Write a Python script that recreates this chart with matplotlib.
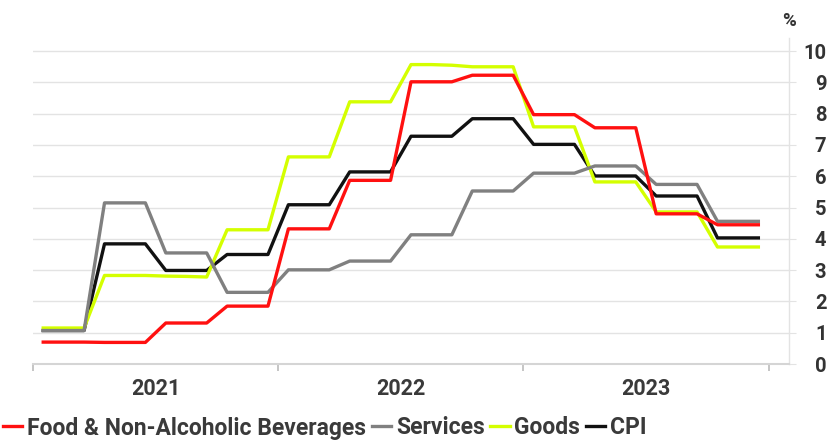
import matplotlib
matplotlib.use("Agg")
import matplotlib.pyplot as plt
import numpy as np

plt.rcParams['font.family'] = ['Roboto', 'DejaVu Sans']

years = ["2021", "2022", "2023"]
y_ticks = [0, 1, 2, 3, 4, 5, 6, 7, 8, 9, 10]

# Monthly values, Jan 2021 - Dec 2023 (annual % change)
food = [0.70, 0.70, 0.70, 0.69, 0.69, 0.69,
        1.31, 1.31, 1.31, 1.85, 1.85, 1.85,
        4.32, 4.32, 4.32, 5.87, 5.87, 5.87,
        9.02, 9.02, 9.02, 9.23, 9.23, 9.23,
        7.97, 7.97, 7.97, 7.55, 7.55, 7.55,
        4.80, 4.80, 4.80, 4.45, 4.45, 4.45]
services = [1.07, 1.07, 1.07, 5.15, 5.15, 5.15,
            3.55, 3.55, 3.55, 2.29, 2.29, 2.29,
            3.01, 3.01, 3.01, 3.29, 3.29, 3.29,
            4.13, 4.13, 4.13, 5.53, 5.53, 5.53,
            6.10, 6.10, 6.10, 6.33, 6.33, 6.33,
            5.74, 5.74, 5.74, 4.56, 4.56, 4.56]
goods = [1.15, 1.15, 1.15, 2.83, 2.83, 2.83,
         2.81, 2.80, 2.78, 4.29, 4.29, 4.29,
         6.62, 6.62, 6.62, 8.38, 8.38, 8.38,
         9.57, 9.57, 9.55, 9.50, 9.50, 9.50,
         7.58, 7.58, 7.58, 5.82, 5.82, 5.82,
         4.86, 4.86, 4.86, 3.74, 3.74, 3.74]
cpi = [1.07, 1.07, 1.07, 3.84, 3.84, 3.84,
       2.99, 2.99, 2.99, 3.50, 3.50, 3.50,
       5.09, 5.09, 5.09, 6.14, 6.14, 6.14,
       7.28, 7.28, 7.28, 7.84, 7.84, 7.84,
       7.02, 7.02, 7.02, 6.01, 6.01, 6.01,
       5.37, 5.37, 5.37, 4.03, 4.03, 4.03]

months = np.arange(len(cpi)) + 0.5

W, H = 828, 441
fig = plt.figure(figsize=(W / 100, H / 100), dpi=100)
left, right, top, bottom = 33, 789, 38, 364
ax = fig.add_axes([left / W, 1 - bottom / H, (right - left) / W, (bottom - top) / H])

lw = 2.4
l_cpi, = ax.plot(months, cpi, color="#111111", lw=lw, label="CPI", zorder=3)
l_goods, = ax.plot(months, goods, color="#d4ff00", lw=lw, label="Goods", zorder=4)
l_serv, = ax.plot(months, services, color="#808080", lw=lw, label="Services", zorder=5)
l_food, = ax.plot(months, food, color="#ff1010", lw=lw, label="Food & Non-Alcoholic Beverages", zorder=6)

ax.set_xlim(0, 37)
ax.set_ylim(0, 10.42)

# gridlines
for v in y_ticks[1:]:
    ax.axhline(v, color="#e3e3e3", lw=1.0, zorder=1)

for s in ["top", "left"]:
    ax.spines[s].set_visible(False)
ax.spines["right"].set_color("#e3e3e3")
ax.spines["right"].set_linewidth(1.0)
ax.spines["bottom"].set_color("#d5d5d5")
ax.spines["bottom"].set_linewidth(1.5)

ax.yaxis.tick_right()
ax.set_yticks(y_ticks)
ax.set_yticklabels([str(v) for v in y_ticks], fontsize=14.5, fontweight="bold",
                   color="#333333", ha="right")
ax.tick_params(axis="y", length=5, color="#e3e3e3", pad=22)

ax.set_xticks([0, 12, 24, 36])
ax.set_xticklabels([])
ax.tick_params(axis="x", length=5, color="#bbbbbb", width=1.2, direction="out")
for i, yr in enumerate(years):
    ax.text(6 + 12 * i, -0.8, yr, ha="center", va="center", fontsize=15.5,
            fontweight="bold", color="#3a3a3a", transform=ax.transData)

fig.text(right / W, 1 - 21 / H, "%", ha="center", va="center", fontsize=13.5,
         fontweight="bold", color="#333333")

leg = fig.legend(handles=[l_food, l_serv, l_goods, l_cpi], loc="center left",
                 bbox_to_anchor=(3 / W, 1 - 428 / H), ncol=4, frameon=False,
                 handlelength=0.85, handletextpad=0.2, columnspacing=0.25,
                 borderaxespad=0, borderpad=0,
                 prop={"family": "Roboto", "weight": "bold", "size": 16.5})
for t in leg.get_texts():
    t.set_color("#3a3a3a")

fig.savefig("out.png", dpi=100)
